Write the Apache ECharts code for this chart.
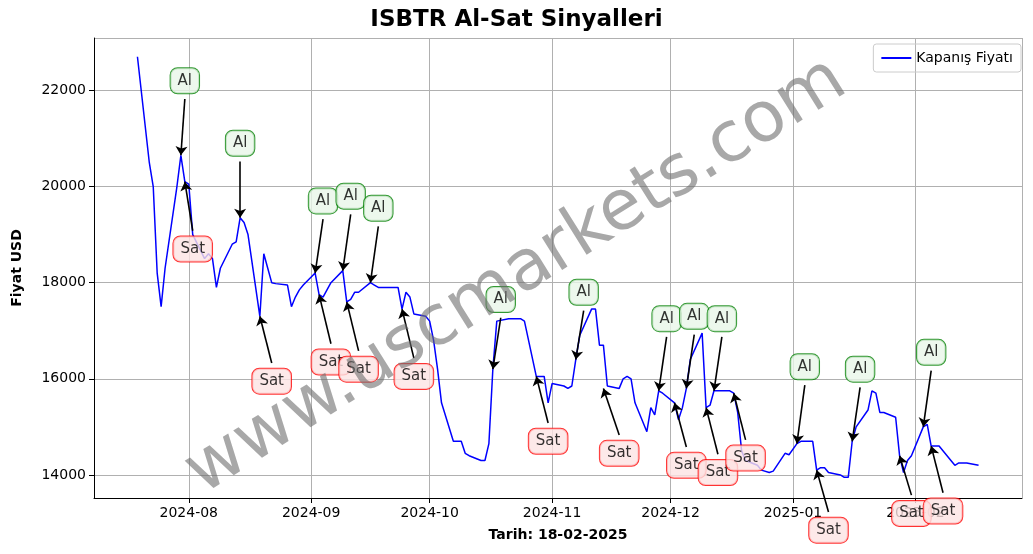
<!DOCTYPE html>
<html><head><meta charset="utf-8">
<script src="https://cdn.jsdelivr.net/npm/echarts@6/dist/echarts.min.js"></script>
<style>html,body{margin:0;padding:0;background:#fff}#c{width:1033px;height:554px}</style>
</head><body><div id="c"></div>
<script>
const dates = ["2024-07-19","2024-07-22","2024-07-23","2024-07-24","2024-07-25","2024-07-26","2024-07-29","2024-07-30","2024-07-31","2024-08-01","2024-08-02","2024-08-05","2024-08-06","2024-08-07","2024-08-08","2024-08-09","2024-08-12","2024-08-13","2024-08-14","2024-08-15","2024-08-16","2024-08-19","2024-08-20","2024-08-21","2024-08-22","2024-08-23","2024-08-26","2024-08-27","2024-08-28","2024-08-29","2024-08-30","2024-09-02","2024-09-03","2024-09-04","2024-09-05","2024-09-06","2024-09-09","2024-09-10","2024-09-11","2024-09-12","2024-09-13","2024-09-16","2024-09-17","2024-09-18","2024-09-19","2024-09-20","2024-09-23","2024-09-24","2024-09-25","2024-09-26","2024-09-27","2024-09-30","2024-10-01","2024-10-02","2024-10-03","2024-10-04","2024-10-07","2024-10-08","2024-10-09","2024-10-10","2024-10-11","2024-10-14","2024-10-15","2024-10-16","2024-10-17","2024-10-18","2024-10-21","2024-10-22","2024-10-23","2024-10-24","2024-10-25","2024-10-28","2024-10-29","2024-10-30","2024-10-31","2024-11-01","2024-11-04","2024-11-05","2024-11-06","2024-11-07","2024-11-08","2024-11-11","2024-11-12","2024-11-13","2024-11-14","2024-11-15","2024-11-18","2024-11-19","2024-11-20","2024-11-21","2024-11-22","2024-11-25","2024-11-26","2024-11-27","2024-11-28","2024-11-29","2024-12-02","2024-12-03","2024-12-04","2024-12-05","2024-12-06","2024-12-09","2024-12-10","2024-12-11","2024-12-12","2024-12-13","2024-12-16","2024-12-17","2024-12-18","2024-12-19","2024-12-20","2024-12-23","2024-12-24","2024-12-26","2024-12-27","2024-12-30","2024-12-31","2025-01-02","2025-01-03","2025-01-06","2025-01-07","2025-01-08","2025-01-09","2025-01-10","2025-01-13","2025-01-14","2025-01-15","2025-01-16","2025-01-17","2025-01-20","2025-01-21","2025-01-22","2025-01-23","2025-01-24","2025-01-27","2025-01-28","2025-01-29","2025-01-30","2025-01-31","2025-02-03","2025-02-04","2025-02-05","2025-02-06","2025-02-07","2025-02-10","2025-02-11","2025-02-12","2025-02-13","2025-02-14","2025-02-17"];
const prices = [22700,20500,20000,18200,17500,18300,20000,20650,20100,20050,19000,18500,18600,18500,17900,18300,18800,18850,19350,19250,19000,17300,18600,18300,18000,17980,17950,17500,17700,17850,17950,18200,17750,17700,17850,18000,18250,17600,17650,17800,17800,18000,17950,17900,17900,17900,17900,17450,17800,17700,17350,17300,17200,16800,16200,15500,14700,14700,14700,14450,14400,14300,14300,14650,16200,17200,17250,17250,17250,17250,17200,16050,16050,16050,15500,15900,15850,15800,15850,16400,16900,17450,17450,16700,16700,15850,15800,16000,16050,16000,15500,14900,15400,15250,15750,15700,15500,15150,15400,15800,16400,16950,15400,15450,15750,15750,15750,15700,15300,14500,14300,14200,14100,14050,14080,14450,14420,14650,14700,14700,14100,14150,14150,14050,14000,13950,13950,14700,15000,15350,15750,15700,15300,15300,15200,14400,14050,14300,14400,15000,15050,14600,14600,14600,14300,14200,14250,14250,14250,14200];
const sigType = ["Al","Sat","Al","Sat","Al","Sat","Al","Sat","Al","Sat","Al","Sat","Al","Sat","Al","Sat","Al","Sat","Al","Sat","Al","Sat","Al","Sat","Al","Sat"];
const sigDate = ["2024-07-30","2024-07-31","2024-08-14","2024-08-19","2024-09-02","2024-09-03","2024-09-09","2024-09-10","2024-09-16","2024-09-24","2024-10-17","2024-10-28","2024-11-07","2024-11-14","2024-11-28","2024-12-02","2024-12-05","2024-12-10","2024-12-12","2024-12-17","2025-01-02","2025-01-07","2025-01-16","2025-01-28","2025-02-03","2025-02-05"];
const sigPrice = [20650,20100,19350,17300,18200,17750,18250,17600,18000,17450,16200,16050,16400,15800,15750,15500,15800,15400,15750,15700,14650,14100,14700,14400,15000,14600];
const boxDate = ["2024-07-31","2024-08-02","2024-08-14","2024-08-22","2024-09-04","2024-09-06","2024-09-11","2024-09-13","2024-09-18","2024-09-27","2024-10-19","2024-10-31","2024-11-09","2024-11-18","2024-11-30","2024-12-05","2024-12-07","2024-12-13","2024-12-14","2024-12-20","2025-01-04","2025-01-10","2025-01-18","2025-01-31","2025-02-05","2025-02-08"];
const boxPrice = [22200,18700,20900,15950,19700,16350,19800,16200,19550,16050,17650,14700,17800,14450,17250,14200,17300,14050,17250,14350,16250,12850,16200,13200,16550,13250];

const ch = echarts.init(document.getElementById('c'));
const lineData = dates.map((d,i)=>[d,prices[i]]);
const arrows = sigType.map((t,i)=>({coords:[[boxDate[i],boxPrice[i]+(t==="Al"?-380:380)],[sigDate[i],sigPrice[i]]]}));
const boxes = sigType.map((t,i)=>({value:[boxDate[i],boxPrice[i]],
  label:{show:true,position:'inside',formatter:t,fontSize:15,color:'#000',fontFamily:'DejaVu Sans',
    backgroundColor:t==="Al"?'#e8f6e8':'#fde4e4',borderColor:t==="Al"?'green':'red',borderWidth:1,borderRadius:7,padding:[6,7,4,7]}}));
ch.setOption({
  animation:false,
  title:{text:'ISBTR Al-Sat Sinyalleri',left:'center',top:4,textStyle:{fontSize:23,fontWeight:'bold',color:'#000',fontFamily:'DejaVu Sans'}},
  legend:{right:12,top:44,data:['Kapanış Fiyatı'],itemWidth:30,itemHeight:2,textStyle:{fontSize:14,color:'#000',fontFamily:'DejaVu Sans'},borderColor:'#ccc',borderWidth:1,borderRadius:3,padding:[7,8],icon:'rect'},
  grid:{left:94,right:11,top:38,bottom:56},
  xAxis:{type:'time',min:'2024-07-08',max:'2025-02-28',name:'Tarih: 18-02-2025',nameLocation:'middle',nameGap:30,
    nameTextStyle:{fontSize:14,fontWeight:'bold',color:'#000',fontFamily:'DejaVu Sans'},
    axisLine:{onZero:false,lineStyle:{color:'#000'}},axisTick:{show:true,lineStyle:{color:'#000'}},
    axisLabel:{formatter:'{yyyy}-{MM}',fontSize:14,color:'#000',fontFamily:'DejaVu Sans',hideOverlap:true},
    splitLine:{show:true,lineStyle:{color:'#b0b0b0'}}},
  yAxis:{type:'value',min:13520,max:23090,name:'Fiyat USD',nameLocation:'middle',nameGap:70,
    nameTextStyle:{fontSize:14,fontWeight:'bold',color:'#000',fontFamily:'DejaVu Sans'},
    axisLine:{show:true,lineStyle:{color:'#000'}},axisTick:{show:true,lineStyle:{color:'#000'}},
    axisLabel:{fontSize:14,color:'#000',fontFamily:'DejaVu Sans',showMinLabel:false,showMaxLabel:false,formatter:v=>String(v)},
    splitLine:{show:true,lineStyle:{color:'#b0b0b0'}}},
  graphic:[{type:'text',left:'center',top:'middle',rotation:Math.PI*32/180,
    style:{text:'www.uscmarkets.com',fontSize:70,fill:'rgba(110,110,110,0.6)',fontFamily:'DejaVu Sans'},z:100}],
  series:[
    {name:'Kapanış Fiyatı',type:'line',data:lineData,showSymbol:false,lineStyle:{color:'blue',width:1.5},itemStyle:{color:'blue'}},
    {type:'lines',coordinateSystem:'cartesian2d',data:arrows,clip:false,symbol:['none','arrow'],symbolSize:9,silent:true,
     lineStyle:{color:'#000',width:1.6,opacity:1},z:4},
    {type:'scatter',data:boxes,symbolSize:1,itemStyle:{color:'transparent'},clip:false,z:5}
  ]
});
</script></body></html>
